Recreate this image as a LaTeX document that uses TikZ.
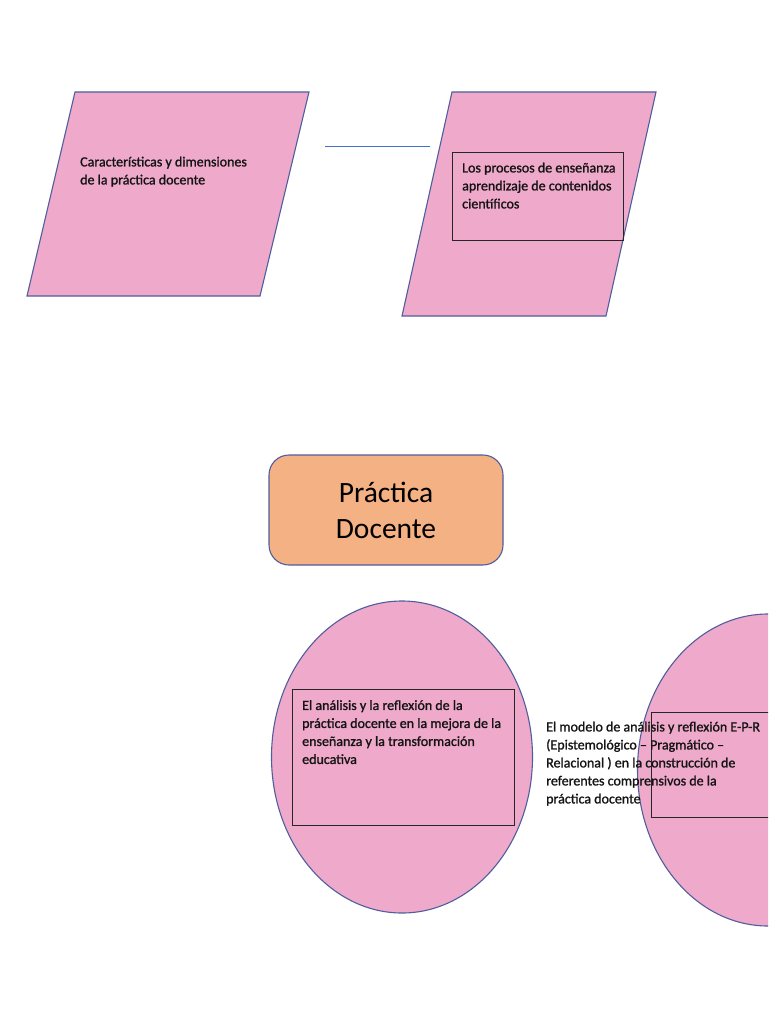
\documentclass[tikz,border=0pt]{standalone}
\usepackage{fontspec}
\setmainfont{Carlito}
\newfontfamily\heavyfont{Carlito}[RawFeature={embolden=1.2}]
\usetikzlibrary{shapes.geometric}
\definecolor{pinkfill}{HTML}{EFA9CA}
\definecolor{orangefill}{HTML}{F4B183}
\definecolor{edgeblue}{HTML}{4F5E9E}
\definecolor{lineblue}{HTML}{4472C4}
\definecolor{txt}{HTML}{141414}
\begin{document}
\begin{tikzpicture}[x=1pt,y=-1pt,
  shapeline/.style={draw=edgeblue,line width=1.1pt},
  pinkshape/.style={shapeline,fill=pinkfill},
  innerbox/.style={draw=black!85,line width=0.8pt},
  txtnode/.style={font=\heavyfont\fontsize{14}{18}\selectfont,text=txt,align=left,anchor=north west,inner sep=0pt},
]
\useasboundingbox (0,0) rectangle (768,1024);
\clip (0,0) rectangle (768,1024);
\fill[white] (0,0) rectangle (768,1024);

% top-left parallelogram
\coordinate (pa1) at (75,92);
\coordinate (pa2) at (309,92);
\coordinate (pa3) at (260,296);
\coordinate (pa4) at (27,296);
\draw[pinkshape] (pa1) -- (pa2) -- (pa3) -- (pa4) -- cycle;

% top-right parallelogram
\coordinate (pb1) at (452,92);
\coordinate (pb2) at (656,92);
\coordinate (pb3) at (606,316);
\coordinate (pb4) at (402,316);
\draw[pinkshape] (pb1) -- (pb2) -- (pb3) -- (pb4) -- cycle;
\node[innerbox,minimum width=171pt,minimum height=88pt,inner sep=0pt] (boxb) at (537.5,196) {};

% free line between
\coordinate (l1) at (325,146);
\coordinate (l2) at (430,146);
\draw[lineblue,line width=0.9pt] (l1) -- (l2);

% central rounded box
\node[shapeline,fill=orangefill,rounded corners=20pt,minimum width=234pt,minimum height=110pt,
      align=center,font=\fontsize{29.5}{36}\selectfont,text=black] (pd) at (386,510) {Práctica\\Docente};

% ellipses
\node[ellipse,pinkshape,minimum width=261pt,minimum height=312pt,inner sep=0pt] (e1) at (402,757) {};
\node[innerbox,minimum width=222pt,minimum height=136pt,inner sep=0pt] (box1) at (403,757) {};
\node[ellipse,pinkshape,minimum width=261pt,minimum height=312pt,inner sep=0pt] (e2) at (768,770) {};
\node[innerbox,minimum width=222pt,minimum height=105pt,inner sep=0pt] (box2) at (762,764.5) {};

% texts
\node[txtnode] (t1) at (80,156.5) {Características y dimensiones\\de la práctica docente};
\node[txtnode] (t2) at (462,162.5) {Los procesos de enseñanza\\aprendizaje de contenidos\\científicos};
\node[txtnode] (t3) at (302,700) {El análisis y la reflexión de la\\práctica docente en la mejora de la\\enseñanza y la transformación\\educativa};
\node[txtnode] (t4) at (546,721.5) {El modelo de análisis y reflexión E-P-R\\(Epistemológico – Pragmático –\\Relacional ) en la construcción de\\referentes comprensivos de la\\práctica docente};
\end{tikzpicture}
\end{document}
